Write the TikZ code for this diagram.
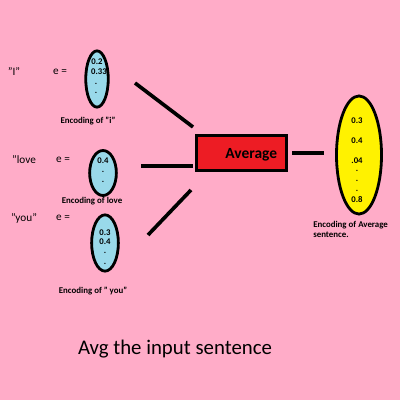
\documentclass[tikz,border=0pt]{standalone}
\usepackage{fontspec}
\setmainfont{Carlito}
\usepackage{xcolor}
\usetikzlibrary{shapes.geometric}

\definecolor{bgpink}{RGB}{255,172,200}
\definecolor{encblue}{RGB}{153,217,234}
\definecolor{avgred}{RGB}{237,28,36}

\tikzset{
  enc/.style={ellipse, draw, line width=2pt, fill=encblue, inner sep=0pt},
  val/.style={font=\fontsize{6.2}{7}\selectfont\bfseries, inner sep=0pt},
  enclabel/.style={font=\fontsize{6.3}{7.3}\selectfont\bfseries, inner sep=0pt},
  word/.style={font=\fontsize{8}{9}\selectfont, inner sep=0pt},
  link/.style={line width=2.6pt}
}

\begin{document}
\begin{tikzpicture}[x=0.025cm, y=-0.025cm]

\fill[bgpink] (0,0) rectangle (400,400);

% word encodings
\node[enc, minimum width=16pt, minimum height=40pt] (encI) at (97,79) {};
\node[enc, minimum width=19pt, minimum height=32pt] (encLove) at (103,173) {};
\node[enc, minimum width=19pt, minimum height=40pt] (encYou) at (105,243) {};
\node[enc, fill=yellow, minimum width=32pt, minimum height=84pt] (encAvg) at (359,155) {};

\node[word] (wI) at (14,72) {"I"};
\node[word] (eI) at (60,72) {e =};
\node[word] (wLove) at (24,160) {"love};
\node[word] (eLove) at (63,160) {e =};
\node[word] (wYou) at (24,218) {"you"};
\node[word] (eYou) at (63,218) {e =};

\node[val] (i1) at (97,62) {0.2};
\node[val] (i2) at (99,72) {0.33};
\node[val] (i3) at (96,84) {.};
\node[val] (i4) at (96,93) {.};

\node[val] (l1) at (103,161) {0.4};
\node[val] (l2) at (103,172) {.};
\node[val] (l3) at (103,182) {.};

\node[val] (y1) at (105,233) {0.3};
\node[val] (y2) at (105,242) {0.4};
\node[val] (y3) at (105,253) {.};
\node[val] (y4) at (105,264) {.};

\node[val] (a1) at (357,121) {0.3};
\node[val] (a2) at (357,141) {0.4};
\node[val] (a3) at (357,161) {.04};
\node[val] (a4) at (357,171) {.};
\node[val] (a5) at (357,181) {.};
\node[val] (a6) at (357,191) {.};
\node[val] (a7) at (357,200) {0.8};

\node[enclabel] (cI) at (88,121) {Encoding of "i"};
\node[enclabel] (cLove) at (92,201) {Encoding of love};
\node[enclabel] (cYou) at (93,291) {Encoding of " you"};
\node[enclabel, align=left, anchor=north west] (cAvg) at (313,221) {Encoding of Average\\sentence.};

% average block
\node[draw, line width=2pt, fill=avgred, minimum width=64pt, minimum height=25pt,
      font=\fontsize{11}{12}\selectfont\bfseries, text depth=0pt] (avg) at (241.5,153) {\hspace{14pt}Average};

\coordinate (s1) at (135,83);
\coordinate (t1) at (193,127);
\coordinate (s2) at (141,166);
\coordinate (t2) at (193,166);
\coordinate (s3) at (148,235);
\coordinate (t3) at (191,190);
\coordinate (s4) at (292,153);
\coordinate (t4) at (324,153);

\draw[link] (s1) -- (t1);
\draw[link] (s2) -- (t2);
\draw[link] (s3) -- (t3);
\draw[link] (s4) -- (t4);

\node[font=\fontsize{14.8}{16}\selectfont, inner sep=0pt] (title) at (175,349) {Avg the input sentence};

\end{tikzpicture}
\end{document}
